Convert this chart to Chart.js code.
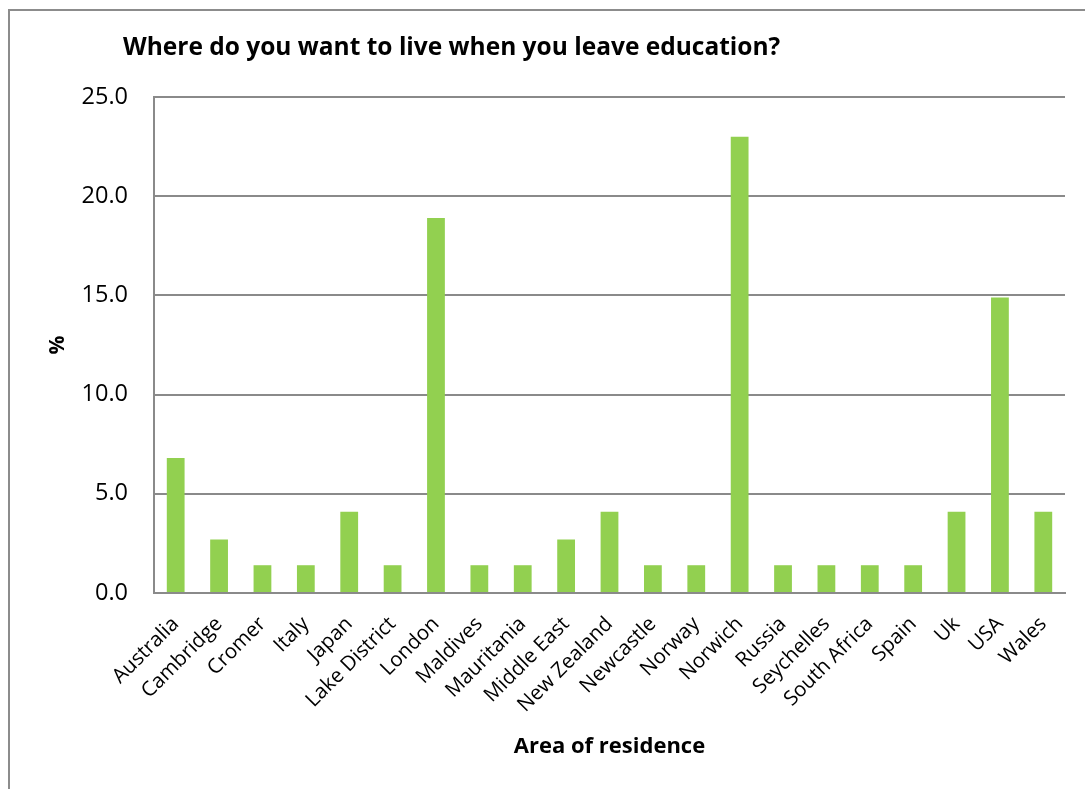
<!DOCTYPE html>
<html>
<head>
<meta charset="utf-8">
<script src="https://cdn.jsdelivr.net/npm/chart.js@4"></script>
<style>
  html, body { margin: 0; padding: 0; background: #fff; overflow: hidden; }
  #wrap { position: relative; width: 1085px; height: 789px; }
  #frame { position: absolute; left: 8px; top: 9px; width: 1200px; height: 900px;
           border-left: 2px solid #8c8c8c; border-top: 2px solid #8c8c8c; }
  #title { position: absolute; left: 123px; top: 29px; font-family: 'Open Sans', sans-serif;
           font-weight: bold; font-size: 24.5px; letter-spacing: 0px; color: #000; white-space: nowrap; }
  canvas { position: absolute; left: 0; top: 0; }
</style>
</head>
<body>
<div id="wrap">
  <div id="frame"></div>
  <canvas id="myChart" width="1085" height="789"></canvas>
  <div id="title">Where do you want to live when you leave education?</div>
</div>
<script>
'use strict';

// categories (area of residence)
const places = ['Australia', 'Cambridge', 'Cromer', 'Italy', 'Japan', 'Lake District', 'London',
  'Maldives', 'Mauritania', 'Middle East', 'New Zealand', 'Newcastle', 'Norway', 'Norwich',
  'Russia', 'Seychelles', 'South Africa', 'Spain', 'Uk', 'USA', 'Wales'];

// percent of answers
const percents = [6.8, 2.7, 1.4, 1.4, 4.1, 1.4, 18.9, 1.4, 1.4, 2.7, 4.1, 1.4, 1.4, 23.0,
  1.4, 1.4, 1.4, 1.4, 4.1, 14.9, 4.1];

const yTicks = [0, 5, 10, 15, 20, 25];

const gridGrey = '#8a8a8a';

var ctx = document.getElementById('myChart').getContext('2d');
window.chart = new Chart(ctx, {
  type: 'bar',
  data: {
    labels: places,
    datasets: [{
      label: '%',
      data: percents,
      backgroundColor: '#92D050',
      borderWidth: 0,
      barPercentage: 0.41,
      categoryPercentage: 1.0
    }]
  },
  options: {
    responsive: false,
    animation: false,
    layout: { padding: { left: 10, top: 97, right: 20, bottom: 0 } },
    plugins: {
      legend: { display: false },
      tooltip: { enabled: false }
    },
    scales: {
      x: {
        grid: { display: false, drawTicks: false },
        border: { display: true, color: gridGrey, width: 2 },
        ticks: {
          color: '#000',
          font: { family: 'Open Sans', size: 20.5 },
          maxRotation: 45,
          minRotation: 45,
          padding: 19,
          autoSkip: false
        },
        title: {
          display: true,
          text: 'Area of residence',
          color: '#000',
          font: { family: 'Open Sans', size: 22, weight: 'bold' },
          padding: { top: 0, bottom: 29 }
        },
        afterFit: function(scale) { scale.height = 789 - 593; }
      },
      y: {
        min: 0,
        max: 25,
        afterBuildTicks: function(scale) {
          scale.ticks = yTicks.map(v => ({ value: v }));
        },
        grid: { color: gridGrey, lineWidth: 2, drawTicks: false },
        border: { display: true, color: gridGrey, width: 2 },
        ticks: {
          color: '#000',
          font: { family: 'Open Sans', size: 23.5 },
          padding: 26,
          callback: function(v) { return v.toFixed(1); }
        },
        title: {
          display: true,
          text: '%',
          color: '#000',
          font: { family: 'Open Sans', size: 21, weight: 'bold' },
          padding: { top: 35, bottom: 0 }
        },
        afterFit: function(scale) { scale.width = 154 - 10; }
      }
    }
  }
});
</script>
</body>
</html>
